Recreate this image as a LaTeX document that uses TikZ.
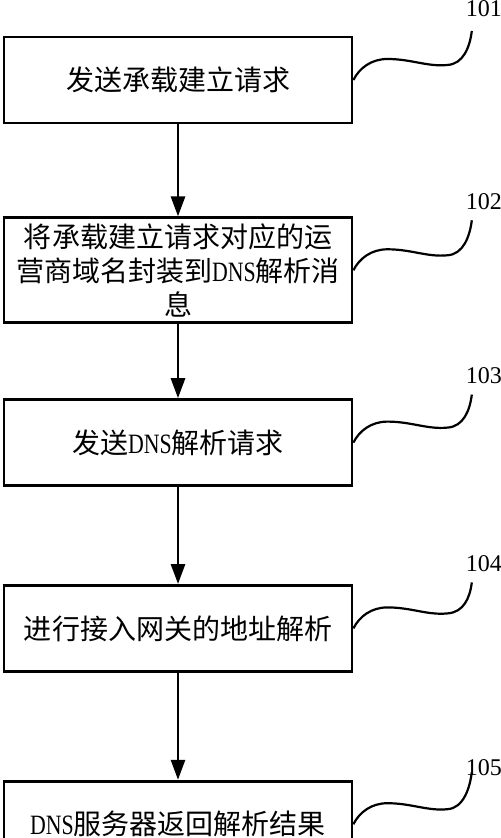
\documentclass[tikz,border=0pt]{standalone}
\usepackage{fontspec}
\setmainfont{Noto Sans CJK SC}
\newfontfamily\numfont{Liberation Serif}
\newfontfamily\dnsfont[FakeStretch=0.78]{Liberation Serif}
\usetikzlibrary{arrows.meta, positioning, calc}

\begin{document}
\begin{tikzpicture}[
      box/.style={draw, line width=1.4pt, minimum width=174pt, minimum height=43pt, align=center, inner sep=2pt, font=\fontsize{14pt}{17pt}\selectfont},
      arr/.style={-{Triangle[length=10pt, width=7pt]}, line width=1.4pt},
      lbl/.style={font=\numfont\fontsize{12pt}{14pt}\selectfont, inner sep=3pt},
      wav/.style={line width=1.1pt, to path={.. controls +(3pt,6pt) and +(-8pt,0pt) .. ($(\tikztostart)+(17pt,10.5pt)$) .. controls +(12pt,0pt) and +(-10pt,-1pt) .. ($(\tikztostart)+(47pt,7.5pt)$) .. controls +(8pt,0.5pt) and +(-1pt,-8pt) .. (\tikztotarget)}},
    ]
    \useasboundingbox (0,0) rectangle (250pt,-419pt);

    \node[box] (send_req) at (89pt,-40pt) {发送承载建立请求};
    \node[box, below=46pt of send_req, minimum height=52.5pt] (wrap_msg) {将承载建立请求对应的运\\营商域名封装到{\dnsfont DNS}解析消\\息};
    \node[box, below=37pt of wrap_msg] (send_dns) {发送{\dnsfont DNS}解析请求};
    \node[box, below=48.5pt of send_dns] (addr_res) {进行接入网关的地址解析};
    \node[box, below=53.5pt of addr_res] (ret_res) {{\dnsfont DNS}服务器返回解析结果};

    \node[lbl, above right=28.5pt and 53pt of send_req.east] (tag_a) {101};
    \node[lbl, above right=27pt and 53pt of wrap_msg.east] (tag_b) {102};
    \node[lbl, above right=26pt and 53pt of send_dns.east] (tag_c) {103};
    \node[lbl, above right=25pt and 53pt of addr_res.east] (tag_d) {104};
    \node[lbl, above right=21pt and 53pt of ret_res.east] (tag_e) {105};

    \draw[arr] (send_req.south) -- (wrap_msg.north);
    \draw[arr] (wrap_msg.south) -- (send_dns.north);
    \draw[arr] (send_dns.south) -- (addr_res.north);
    \draw[arr] (addr_res.south) -- (ret_res.north);

    \draw[wav] (send_req.east) to ([xshift=-6pt,yshift=-4pt]tag_a.south);
    \draw[wav] (wrap_msg.east) to ([xshift=-6pt,yshift=-2pt]tag_b.south);
    \draw[wav] (send_dns.east) to ([xshift=-6pt,yshift=-2pt]tag_c.south);
    \draw[wav] (addr_res.east) to ([xshift=-6pt,yshift=-2pt]tag_d.south);
    \draw[wav] (ret_res.east) to ([xshift=-6pt,yshift=5pt]tag_e.south);
  \end{tikzpicture}
\end{document}
